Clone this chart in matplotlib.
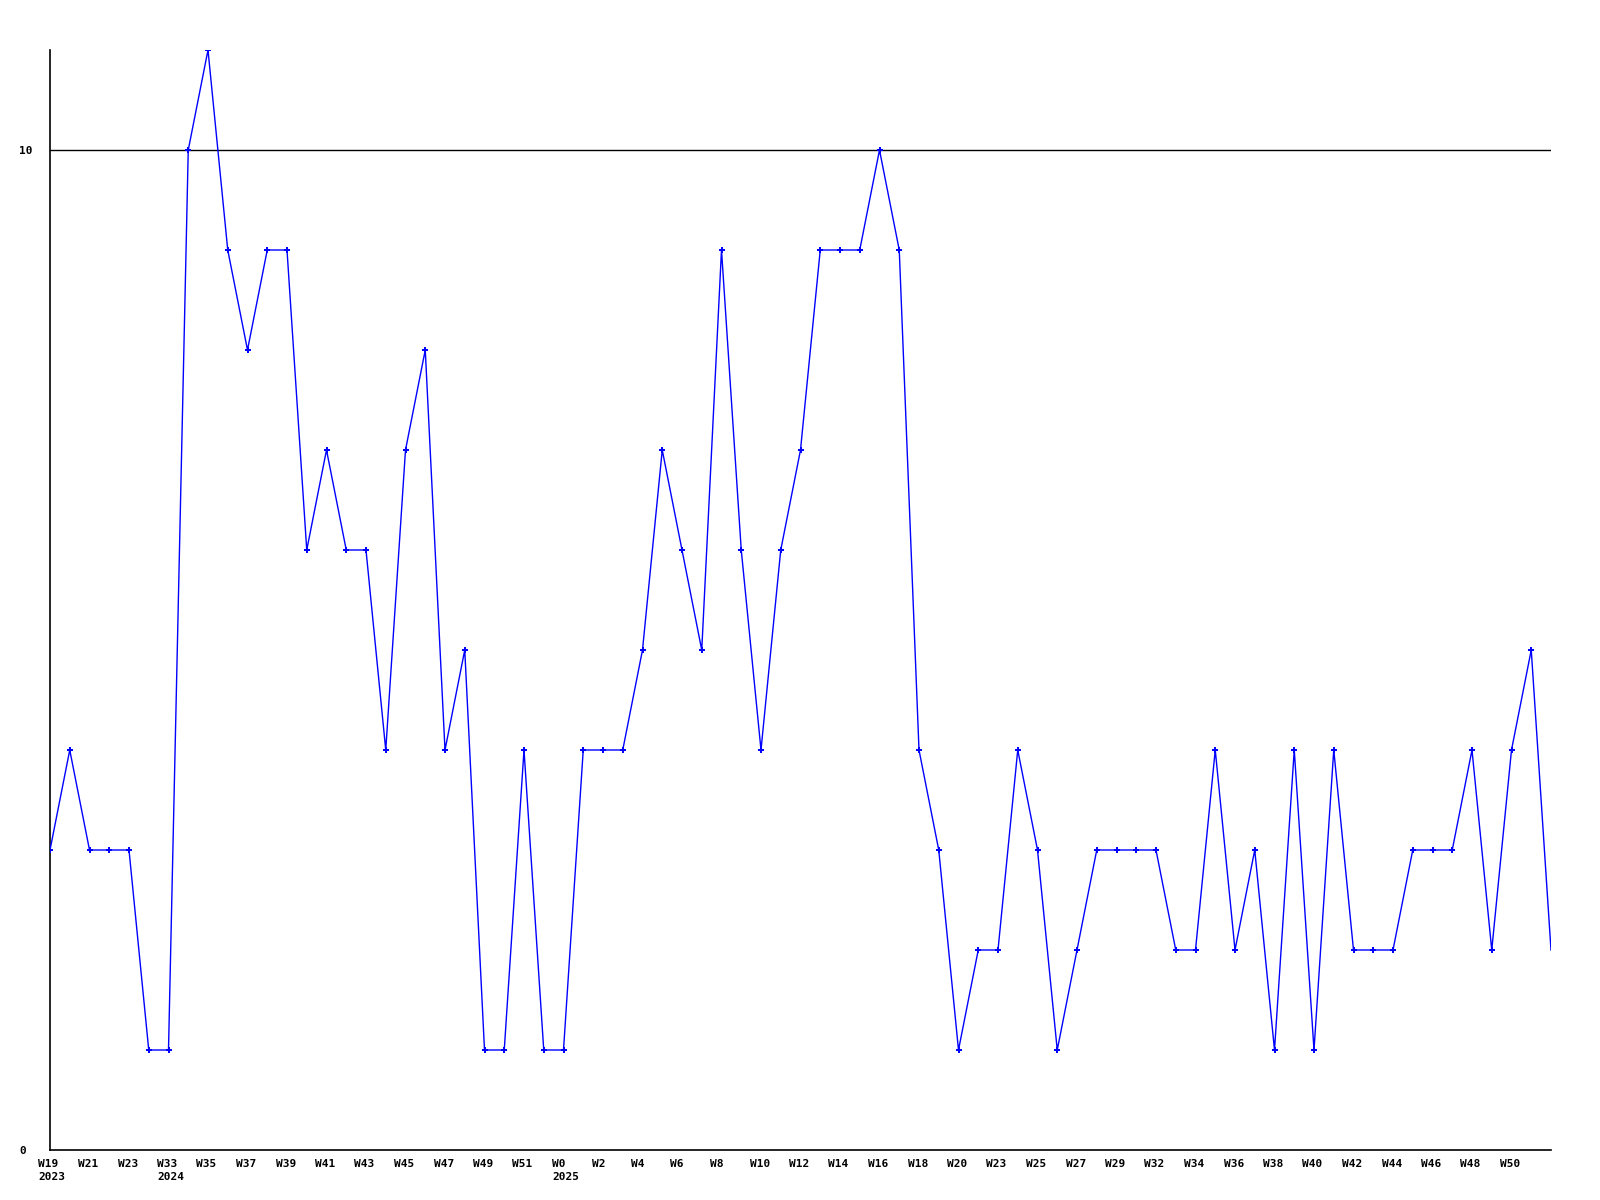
import matplotlib.pyplot as plt
import matplotlib.transforms as mtransforms
import numpy as np

# weekly counts, one value per week that has data
values = [3, 4, 3, 3, 3, 1, 1, 10, 11, 9,
          8, 9, 9, 6, 7, 6, 6, 4, 7, 8,
          4, 5, 1, 1, 4, 1, 1, 4, 4, 4,
          5, 7, 6, 5, 9, 6, 4, 6, 7, 9,
          9, 9, 10, 9, 4, 3, 1, 2, 2, 4,
          3, 1, 2, 3, 3, 3, 3, 2, 2, 4,
          2, 3, 1, 4, 1, 4, 2, 2, 2, 3,
          3, 3, 4, 2, 4, 5, 2]

# labels shown on every second point
week_labels = ["W19", "W21", "W23", "W33", "W35", "W37", "W39", "W41", "W43",
               "W45", "W47", "W49", "W51", "W0", "W2", "W4", "W6", "W8", "W10",
               "W12", "W14", "W16", "W18", "W20", "W23", "W25", "W27", "W29",
               "W32", "W34", "W36", "W38", "W40", "W42", "W44", "W46", "W48",
               "W50"]
year_labels = {"W19": "2023", "W33": "2024", "W0": "2025"}

x = np.arange(len(values))

fig = plt.figure(figsize=(16, 12), dpi=100)
ax = fig.add_axes([50 / 1600, 50 / 1200, 1501 / 1600, 1100 / 1200])

ax.plot(x[:-1], values[:-1], color="#0000ff", lw=1, marker="P", ms=4.5,
        mew=0, zorder=3)
ax.plot(x[-2:], values[-2:], color="#0000ff", lw=1, zorder=3)

ax.axhline(10, color="black", lw=1, zorder=1)

ax.set_xlim(0, len(values) - 1)
ax.set_ylim(0, 11)

for s in ["top", "right"]:
    ax.spines[s].set_visible(False)
for s in ["left", "bottom"]:
    ax.spines[s].set_linewidth(1.2)

font = dict(family="DejaVu Sans Mono", fontsize=8, fontweight="bold")

ax.set_yticks([0, 10])
ax.set_yticklabels(["0", "10"], ha="left", **font)
ax.tick_params(axis="y", length=0, pad=22)

# x labels: left-aligned a little before each point, year on a second line
ax.set_xticks([])
trans = mtransforms.blended_transform_factory(ax.transData, ax.transAxes)
trans = trans + mtransforms.ScaledTranslation(-11.5 / 100, -9 / 100,
                                              fig.dpi_scale_trans)
for pos, w in zip(x[::2], week_labels):
    text = w
    if w in year_labels:
        text += "\n" + year_labels[w]
    ax.text(pos, 0, text, transform=trans, ha="left", va="top",
            linespacing=1.35, clip_on=False, **font)

fig.savefig("out.png", dpi=100)
